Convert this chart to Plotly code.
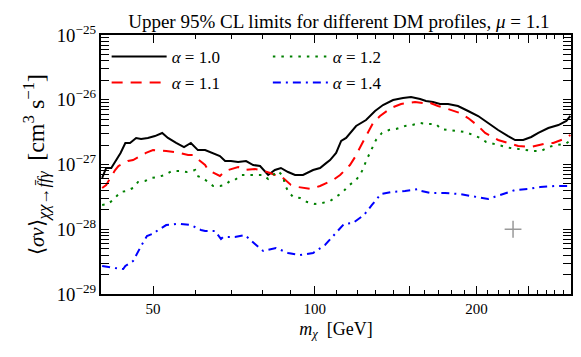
import math
import plotly.graph_objects as go

# ---- data (mass in GeV, <sigma v> in cm^3 s^-1) ----
m_a10 = [40.2, 40.9, 41.8, 42.7, 43.5, 44.4, 45.3, 46.5, 47.5, 48.9, 50.4, 52.0, 53.3, 55.2, 57.1,
         58.8, 60.6, 62.5, 64.7, 66.6, 68.1, 69.8, 72.0, 74.5, 76.8, 79.1, 81.9, 84.3, 86.5, 89.2,
         91.9, 95.1, 99.3, 102.3, 105.0, 106.8, 109.6, 112.0, 114.4, 119.4, 124.6, 129.5, 134.0,
         139.9, 146.0, 151.1, 157.1, 161.1, 166.0, 171.1, 177.1, 184.8, 193.0, 201.5, 210.3, 219.5,
         229.1, 236.1, 244.4, 253.0, 260.8, 272.2, 284.2, 294.1, 299.2]
sv_a10 = [6.19e-28, 8.83e-28, 8.83e-28, 1.17e-27, 1.51e-27, 2.15e-27, 2.15e-27, 2.57e-27, 2.48e-27,
          2.57e-27, 2.75e-27, 3.07e-27, 2.57e-27, 2.15e-27, 1.86e-27, 2.15e-27, 1.67e-27, 1.67e-27,
          1.51e-27, 1.35e-27, 1.13e-27, 1.13e-27, 1.09e-27, 1.13e-27, 9.82e-28, 9.48e-28, 6.89e-28,
          8.22e-28, 8.83e-28, 7.66e-28, 6.89e-28, 6.89e-28, 8.22e-28, 8.83e-28, 1.05e-27, 1.17e-27,
          1.51e-27, 2.31e-27, 2.57e-27, 3.93e-27, 4.87e-27, 6.70e-27, 8.30e-27, 9.91e-27, 1.064e-26,
          1.10e-26, 1.027e-26, 9.56e-27, 9.23e-27, 8.60e-27, 8.60e-27, 8.01e-27, 6.70e-27, 5.61e-27,
          4.37e-27, 3.41e-27, 2.75e-27, 2.39e-27, 2.39e-27, 2.66e-27, 3.07e-27, 3.66e-27, 4.07e-27,
          4.70e-27, 5.61e-27]

m_a11 = [40.2, 40.9, 42.5, 43.1, 44.9, 45.9, 48.5, 50.0, 52.9, 54.9, 58.1, 59.3, 62.5, 63.3, 66.6,
         68.1, 72.0, 74.1, 77.4, 79.5, 82.6, 84.3, 86.5, 90.3, 93.1, 98.4, 102.3, 108.2, 111.5, 116.3,
         118.9, 123.0, 124.6, 128.4, 132.3, 138.7, 144.8, 153.7, 159.1, 162.5, 169.6, 177.1, 186.4,
         193.0, 201.5, 207.6, 219.5, 229.1, 239.2, 251.9, 260.8, 272.2, 278.1, 294.1, 299.2]
sv_a11 = [4.34e-28, 4.83e-28, 8.22e-28, 9.48e-28, 1.13e-27, 1.17e-27, 1.51e-27, 1.67e-27, 1.62e-27,
          1.56e-27, 1.40e-27, 1.40e-27, 9.82e-28, 8.22e-28, 6.65e-28, 7.94e-28, 9.15e-28, 8.22e-28,
          8.52e-28, 8.22e-28, 7.39e-28, 6.89e-28, 6.65e-28, 4.83e-28, 4.49e-28, 4.18e-28, 4.66e-28,
          5.76e-28, 6.89e-28, 9.82e-28, 1.31e-27, 2.31e-27, 2.75e-27, 4.37e-27, 5.61e-27, 7.46e-27,
          8.60e-27, 9.23e-27, 8.91e-27, 9.23e-27, 8.01e-27, 7.20e-27, 6.24e-27, 5.22e-27, 3.93e-27,
          3.07e-27, 2.39e-27, 2.15e-27, 1.93e-27, 1.86e-27, 2.00e-27, 2.15e-27, 2.15e-27, 2.57e-27,
          2.86e-27]

m_a12 = [40.2, 41.2, 42.1, 43.5, 44.6, 45.9, 46.9, 48.3, 49.6, 51.0, 52.6, 54.2, 56.1, 57.8, 59.9,
         60.4, 61.9, 64.7, 66.6, 68.1, 69.5, 71.0, 72.9, 75.8, 77.8, 80.2, 81.9, 83.6, 85.4, 87.3,
         88.0, 89.2, 91.1, 93.9, 96.8, 100.1, 103.2, 106.8, 109.6, 112.9, 115.3, 118.9, 121.4, 123.0,
         124.6, 126.7, 128.4, 130.0, 133.4, 137.5, 141.7, 147.3, 151.8, 157.1, 162.5, 168.2, 171.8,
         178.6, 184.0, 190.5, 197.2, 203.2, 208.5, 216.7, 222.4, 231.1, 239.2, 246.5, 255.2, 264.2,
         272.2, 281.7, 292.8, 300.0]
sv_a12 = [2.37e-28, 2.45e-28, 2.83e-28, 3.76e-28, 3.90e-28, 4.34e-28, 5.37e-28, 5.56e-28, 6.19e-28,
          6.41e-28, 6.89e-28, 7.94e-28, 7.94e-28, 7.66e-28, 8.22e-28, 6.65e-28, 6.19e-28, 4.66e-28,
          4.66e-28, 4.83e-28, 5.56e-28, 5.76e-28, 6.89e-28, 6.89e-28, 6.89e-28, 6.89e-28, 5.97e-28,
          6.89e-28, 7.94e-28, 6.65e-28, 4.83e-28, 3.90e-28, 3.15e-28, 3.04e-28, 2.63e-28, 2.45e-28,
          2.54e-28, 2.73e-28, 3.15e-28, 3.76e-28, 4.66e-28, 5.56e-28, 6.89e-28, 8.52e-28, 1.13e-27,
          1.51e-27, 1.93e-27, 2.39e-27, 3.07e-27, 3.41e-27, 3.53e-27, 3.93e-27, 4.07e-27, 4.37e-27,
          4.22e-27, 4.22e-27, 3.53e-27, 3.41e-27, 3.29e-27, 3.18e-27, 2.86e-27, 2.57e-27, 2.23e-27,
          2.07e-27, 1.93e-27, 1.80e-27, 1.74e-27, 1.67e-27, 1.62e-27, 1.62e-27, 1.86e-27, 2.00e-27,
          2.07e-27, 2.39e-27]

m_a14 = [40.2, 41.2, 42.5, 44.0, 44.4, 45.9, 46.9, 47.5, 48.7, 50.4, 50.8, 52.9, 55.2, 56.1, 58.8,
         61.4, 62.5, 65.2, 66.9, 67.5, 71.0, 74.1, 77.4, 80.2, 84.7, 89.2, 93.9, 99.3, 104.5, 108.2,
         113.4, 117.8, 123.5, 127.8, 132.8, 138.7, 147.3, 155.7, 157.7, 164.6, 174.8, 186.4, 197.2,
         210.3, 221.4, 236.1, 249.7, 263.0, 280.5, 296.6]
sv_a14 = [2.71e-29, 2.61e-29, 2.52e-29, 2.43e-29, 2.71e-29, 3.23e-29, 4.61e-29, 5.51e-29, 7.86e-29,
          8.75e-29, 9.40e-29, 1.16e-28, 1.21e-28, 1.21e-28, 1.16e-28, 9.74e-29, 9.40e-29, 9.40e-29,
          7.07e-29, 7.59e-29, 7.59e-29, 8.15e-29, 5.92e-29, 4.61e-29, 5.13e-29, 4.30e-29, 4.00e-29,
          4.30e-29, 5.71e-29, 7.86e-29, 1.21e-28, 1.25e-28, 1.66e-28, 2.37e-28, 3.50e-28, 3.76e-28,
          3.90e-28, 4.18e-28, 3.90e-28, 3.63e-28, 3.63e-28, 3.50e-28, 3.26e-28, 2.93e-28, 3.38e-28,
          4.04e-28, 4.18e-28, 4.49e-28, 4.66e-28, 4.66e-28]

marker_m = [234.0]
marker_sv = [1.0e-28]

x_range = [40, 300]
y_range = [1e-29, 1e-25]
x_labelled = [50, 100, 200]
x_major_unlabelled = [150, 250]
x_minor = [60, 70, 80, 90, 110, 120, 130, 140, 160, 170, 180, 190, 210, 220, 230, 240, 260, 270, 280, 290]

FONT = "Liberation Serif"
xr_log = [math.log10(v) for v in x_range]
yr_log = [math.log10(v) for v in y_range]

fig = go.Figure()

def add_line(m, sv, name, color, dash, legend):
    fig.add_trace(go.Scatter(x=m, y=sv, mode="lines", name=name, legend=legend,
                             line=dict(color=color, width=2, dash=dash)))

add_line(m_a10, sv_a10, "<i>α</i> = 1.0", "#000000", "solid", "legend")
add_line(m_a11, sv_a11, "<i>α</i> = 1.1", "#ff0000", "11px,8px", "legend2")
add_line(m_a12, sv_a12, "<i>α</i> = 1.2", "#008000", "2.5px,6px", "legend3")
add_line(m_a14, sv_a14, "<i>α</i> = 1.4", "#0000ff", "8px,5px,2px,5px", "legend4")

fig.add_trace(go.Scatter(x=marker_m, y=marker_sv, mode="markers", showlegend=False,
                         xaxis="x2", yaxis="y",
                         marker=dict(symbol="cross-thin", size=12, color="#999999",
                                     line=dict(color="#999999", width=1.5))))

leg_common = dict(bgcolor="rgba(0,0,0,0)", borderwidth=0, font=dict(family=FONT, size=17, color="black"),
                  xanchor="left", yanchor="middle", itemwidth=55)
fig.update_layout(
    width=581, height=357,
    margin=dict(l=93, r=18, t=27, b=71, autoexpand=False),
    paper_bgcolor="white", plot_bgcolor="white",
    font=dict(family=FONT, size=14, color="black"),
    title=dict(text="Upper 95% CL limits for different DM profiles, <i>μ</i> = 1.1",
               x=0.5695, xanchor="center", y=0.962, yanchor="middle",
               font=dict(family=FONT, size=19, color="black")),
    legend=dict(x=0.012, y=0.915, **leg_common),
    legend2=dict(x=0.012, y=0.815, **leg_common),
    legend3=dict(x=0.355, y=0.915, **leg_common),
    legend4=dict(x=0.355, y=0.815, **leg_common),
    xaxis2=dict(type="log", range=xr_log, overlaying="x", side="bottom", anchor="y",
                showline=False, mirror="allticks", ticks="inside", ticklen=8, tickwidth=1.2,
                tickcolor="black", tickvals=x_major_unlabelled, showticklabels=False,
                showgrid=False, zeroline=False, automargin=False),
)

fig.layout.xaxis.update(
    type="log", range=xr_log, automargin=False,
    showline=True, linecolor="black", linewidth=2, mirror="allticks",
    ticks="inside", ticklen=8, tickwidth=1.2, tickcolor="black",
    tickvals=x_labelled, ticktext=[str(v) for v in x_labelled],
    minor=dict(tickvals=x_minor, ticks="inside", ticklen=4, tickwidth=1, tickcolor="black"),
    showgrid=False, zeroline=False,
    tickfont=dict(family=FONT, size=15),
    title=dict(text="<i>m</i><sub><i>χ</i></sub>  [GeV]", font=dict(family=FONT, size=18), standoff=6),
)
fig.layout.yaxis.update(
    type="log", range=yr_log, automargin=False,
    showline=True, linecolor="black", linewidth=2, mirror="allticks",
    ticks="inside", ticklen=8, tickwidth=1.2, tickcolor="black",
    dtick=1, exponentformat="power", showexponent="all",
    minor=dict(dtick="D1", ticks="inside", ticklen=4, tickwidth=1, tickcolor="black"),
    showgrid=False, zeroline=False,
    tickfont=dict(family=FONT, size=15),
    title=dict(text=("⟨<i>σv</i>⟩<sub><span style='font-size:17px'><i>χχ</i>→<i>f̄fγ</i></span></sub>  "
                     "<span style='font-size:24px'>[cm<sup>3</sup> s<sup>−1</sup>]</span>"),
               font=dict(family=FONT, size=21), standoff=6),
)

fig.write_html("out.html")
